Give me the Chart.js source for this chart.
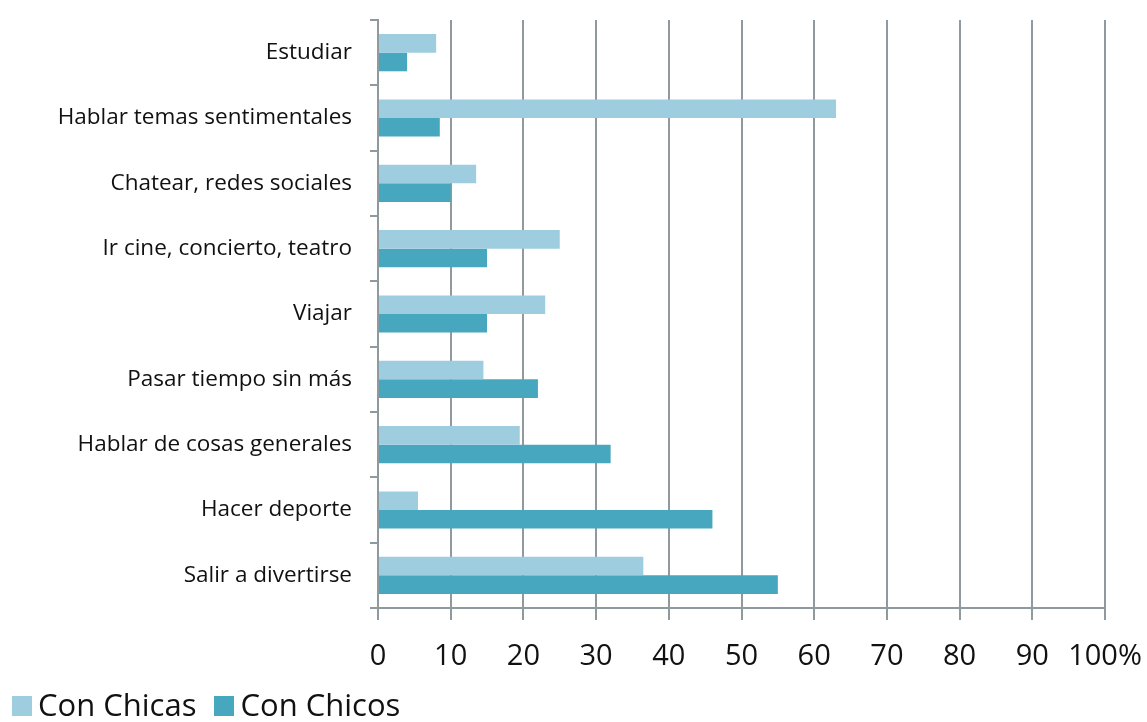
<!DOCTYPE html>
<html>
<head>
<meta charset="utf-8">
<script src="https://cdn.jsdelivr.net/npm/chart.js@4"></script>
<style>
  html, body { margin: 0; padding: 0; background: #fff; overflow: hidden; }
  #wrap { position: relative; width: 1147px; height: 722px; }
  #leyenda {
    position: absolute; left: 12px; top: 689px;
    font-family: "Open Sans", Lato, sans-serif; font-size: 31px; line-height: 31px;
    color: #111; white-space: nowrap;
  }
  #leyenda .item { margin-right: 18px; }
  #leyenda .caja { display: inline-block; width: 20px; height: 20px; margin-right: 6px; }
</style>
</head>
<body>
<div id="wrap">
  <canvas id="grafico" width="1147" height="722"></canvas>
  <div id="leyenda"></div>
</div>
<script>
const categorias = [
  'Estudiar',
  'Hablar temas sentimentales',
  'Chatear, redes sociales',
  'Ir cine, concierto, teatro',
  'Viajar',
  'Pasar tiempo sin más',
  'Hablar de cosas generales',
  'Hacer deporte',
  'Salir a divertirse'
];
const conChicas = [8, 63, 13.5, 25, 23, 14.5, 19.5, 5.5, 36.5];
const conChicos = [4, 8.5, 10, 15, 15, 22, 32, 46, 55];
const ticksX = ['0', '10', '20', '30', '40', '50', '60', '70', '80', '90', '100%'];

const fuente = '"Open Sans", Lato, sans-serif';
const gris = '#8f999e';

const ctx = document.getElementById('grafico').getContext('2d');
const grafico = new Chart(ctx, {
  type: 'bar',
  data: {
    labels: categorias,
    datasets: [
      { label: 'Con Chicas', data: conChicas, backgroundColor: '#9ecde0' },
      { label: 'Con Chicos', data: conChicos, backgroundColor: '#47a7bf' }
    ]
  },
  options: {
    indexAxis: 'y',
    responsive: false,
    animation: false,
    layout: { padding: 0 },
    datasets: { bar: { categoryPercentage: 0.57, barPercentage: 1.0 } },
    scales: {
      x: {
        min: 0,
        max: 100,
        afterFit: (scale) => {
          scale.height = 114;
          scale.paddingLeft = 0;
          scale.paddingRight = 42;
        },
        ticks: {
          stepSize: 10,
          maxRotation: 0,
          autoSkip: false,
          color: '#111',
          font: { family: fuente, size: 29 },
          padding: 19,
          callback: (v, i) => ticksX[i]
        },
        grid: { color: gris, lineWidth: 2, tickLength: 12 },
        border: { color: gris, width: 2 }
      },
      y: {
        afterFit: (scale) => {
          scale.width = 378;
          scale.paddingTop = 20;
          scale.paddingBottom = 0;
        },
        ticks: {
          color: '#111',
          font: { family: fuente, size: 22.5 },
          padding: 18
        },
        grid: { drawOnChartArea: false, offset: true, color: gris, lineWidth: 2, tickLength: 8 },
        border: { color: gris, width: 2 }
      }
    },
    plugins: {
      tooltip: { enabled: false },
      legend: { display: false }
    }
  }
});

// leyenda en HTML a partir de los datasets
const leyenda = document.getElementById('leyenda');
grafico.data.datasets.forEach((ds) => {
  const item = document.createElement('span');
  item.className = 'item';
  const caja = document.createElement('span');
  caja.className = 'caja';
  caja.style.background = ds.backgroundColor;
  item.appendChild(caja);
  item.appendChild(document.createTextNode(ds.label));
  leyenda.appendChild(item);
});
</script>
</body>
</html>
